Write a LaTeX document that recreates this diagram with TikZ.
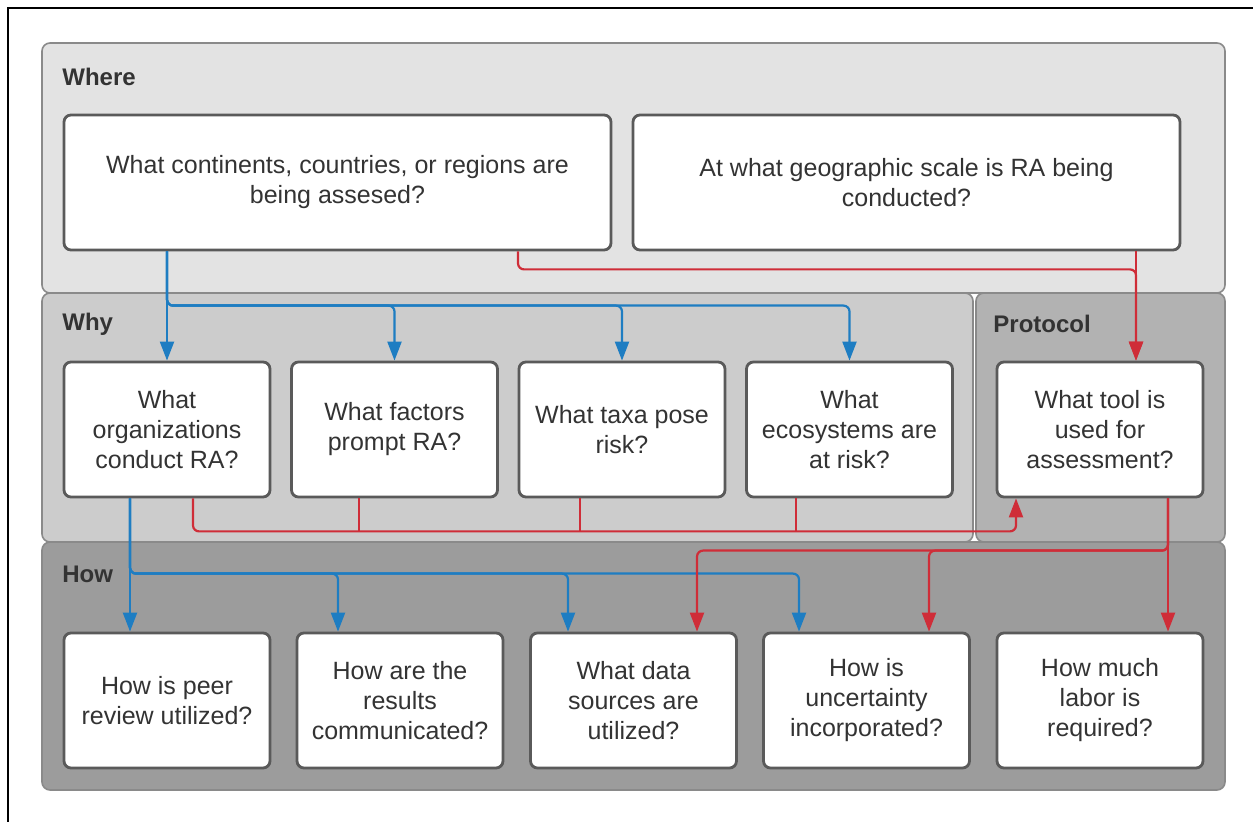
\documentclass[tikz,border=0pt]{standalone}
\usepackage{fontspec}
\setmainfont{Liberation Sans}
\usetikzlibrary{arrows.meta,calc}
\definecolor{wherefill}{HTML}{E3E3E3}
\definecolor{whyfill}{HTML}{CCCCCC}
\definecolor{protfill}{HTML}{B2B2B2}
\definecolor{howfill}{HTML}{9C9C9C}
\definecolor{panelline}{HTML}{8A8A8A}
\definecolor{boxline}{HTML}{5A5A5A}
\definecolor{txt}{HTML}{333333}
\definecolor{linkblue}{HTML}{1E7DC2}
\definecolor{linkred}{HTML}{CF2D38}

\begin{document}
\begin{tikzpicture}[x=0.5pt,y=-0.5pt,
  panel/.style={draw=panelline,line width=0.8pt,rounded corners=4pt},
  ttl/.style={anchor=west,inner sep=0pt,text=txt,font=\fontsize{12}{14}\selectfont\bfseries},
  qbox/.style={draw=boxline,fill=white,line width=1.4pt,rounded corners=3.5pt,align=center,text=txt,font=\fontsize{12.5}{15}\selectfont,minimum height=67.5pt,inner sep=2pt},
  small/.style={qbox,minimum width=103pt},
  wide/.style={qbox,minimum width=273.5pt},
  barr/.style={draw=linkblue,line width=1.1pt,rounded corners=3pt,-{Triangle[length=9.5pt,width=7pt]}},
  rarr/.style={draw=linkred,line width=1.1pt,rounded corners=3pt,-{Triangle[length=9.5pt,width=7pt]}},
  rline/.style={draw=linkred,line width=1.1pt}]
\useasboundingbox (0,0) rectangle (1253,822);
\draw[line width=1pt] (1253,8) -- (8,8) -- (8,822);
\draw[panel,fill=wherefill] (42,43) rectangle (1225,293);
\draw[panel,fill=whyfill] (42,293) rectangle (973,542);
\draw[panel,fill=protfill] (976,293) rectangle (1225,542);
\draw[panel,fill=howfill] (42,542) rectangle (1225,790);
\node[ttl] (tw) at (62,77) {Where};
\node[ttl] (ty) at (62,324) {Why};
\node[ttl] (tp) at (993,324) {Protocol};
\node[ttl] (th) at (62,574) {How};
\node[wide] (w1) at (337.5,182.5) {What continents, countries, or regions are\\being assesed?};
\node[wide] (w2) at (906.5,182.5) {At what geographic scale is RA being\\conducted?};
\node[small] (y1) at (167,429.5) {What\\organizations\\conduct RA?};
\node[small] (y2) at (394.5,429.5) {What factors\\prompt RA?};
\node[small] (y3) at (622,429.5) {What taxa pose\\risk?};
\node[small] (y4) at (849.5,429.5) {What\\ecosystems are\\at risk?};
\node[small] (p) at (1100,429.5) {What tool is\\used for\\assessment?};
\node[small] (h1) at (167,700.5) {How is peer\\review utilized?};
\node[small] (h2) at (400,700.5) {How are the\\results\\communicated?};
\node[small] (h3) at (633.5,700.5) {What data\\sources are\\utilized?};
\node[small] (h4) at (866.5,700.5) {How is\\uncertainty\\incorporated?};
\node[small] (h5) at (1100,700.5) {How much\\labor is\\required?};
\coordinate (pin) at ($(p.north)+(36,0)$);
\draw[barr] (w1.south -| y1.north) -- (y1.north);
\foreach \t in {y2,y3,y4}
  \draw[barr] (w1.south -| y1.north) |- ($(\t.north)+(0,-55)$) -- (\t.north);
\draw[barr] ($(y1.south)+(-37,0)$) -- ($(h1.north)+(-37,0)$);
\foreach \t/\dx in {h2/-62,h3/-65.5,h4/-67.5}
  \draw[barr] ($(y1.south)+(-37,0)$) |- ($(\t.north)+(\dx,-58)$) -- ($(\t.north)+(\dx,0)$);
\draw[rarr] (pin |- w2.south) -- (pin);
\draw[rarr] ($(w1.south)+(180.5,0)$) |- ($(w1.south -| pin)+(0,18)$) -- (pin);
\draw[rarr] ($(y1.south)+(26,0)$) |- ($(p.south)+(-84,33)$) -- ($(p.south)+(-84,0)$);
\foreach \t/\dx in {y2/-35.5,y3/-42,y4/-53.5}
  \draw[rline] ($(\t.south)+(\dx,0)$) -- ($(\t.south)+(\dx,33)$);
\draw[rarr] ($(p.south)+(68,0)$) -- ($(h5.north)+(68,0)$);
\foreach \t/\dx in {h3/63.5,h4/62.5}
  \draw[rarr] ($(p.south)+(68,0)$) |- ($(\t.north)+(\dx,-81)$) -- ($(\t.north)+(\dx,0)$);
\end{tikzpicture}
\end{document}
